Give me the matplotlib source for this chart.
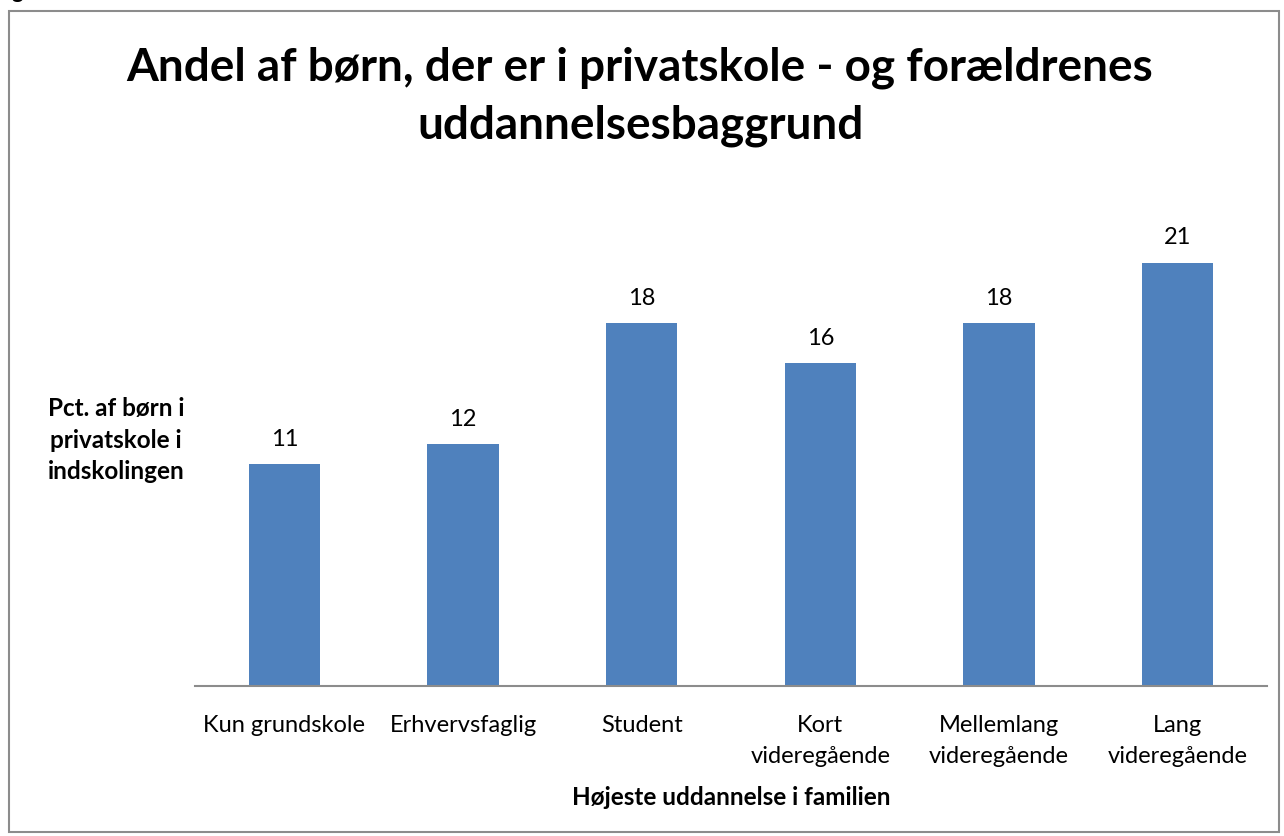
import matplotlib.pyplot as plt
from matplotlib.patches import Rectangle

plt.rcParams['font.family'] = ['Lato', 'DejaVu Sans']

categories = ["Kun grundskole", "Erhvervsfaglig", "Student", "Kort\nvideregående",
              "Mellemlang\nvideregående", "Lang\nvideregående"]
values = [11, 12, 18, 16, 18, 21]
title = "Andel af børn, der er i privatskole - og forældrenes\nuddannelsesbaggrund"
ylabel = "Pct. af børn i\nprivatskole i\nindskolingen"
xlabel = "Højeste uddannelse i familien"

fig = plt.figure(figsize=(12.84, 8.37), dpi=100)
W, H = 1284, 837

# outer frame like the spreadsheet chart area
fig.patches.append(Rectangle((9 / W, 4 / H), 1270 / W, 821 / H, transform=fig.transFigure,
                             fill=False, edgecolor='#8c8c8c', linewidth=1.5))
fig.text(12 / W, 1 - 2 / H, "g", fontsize=16, fontweight='bold', va='bottom', ha='left')

ax = fig.add_axes([195 / W, (H - 687) / H, 1072 / W, (687 - 183) / H])
x = range(len(categories))
ax.bar(x, values, width=0.4, color='#4F81BD')
for xi, v in zip(x, values):
    ax.annotate(str(v), (xi, v), xytext=(0, 11), textcoords='offset points',
                ha='center', va='bottom', fontsize=17)

ax.set_xlim(-0.5, len(categories) - 0.5)
ax.set_ylim(0, 25)
ax.set_yticks([])
ax.set_xticks(list(x))
ax.set_xticklabels(categories, fontsize=17, linespacing=1.6)
ax.tick_params(axis='x', length=0, pad=20)
for s in ['top', 'right', 'left']:
    ax.spines[s].set_visible(False)
ax.spines['bottom'].set_color('#8c8c8c')
ax.spines['bottom'].set_linewidth(1.5)

fig.text(731 / W, 1 - 798 / H, xlabel, ha='center', va='center', fontsize=17.5, fontweight='bold')
fig.text(116 / W, 1 - 440 / H, ylabel, ha='center', va='center', fontsize=17.5,
         fontweight='bold', linespacing=1.45)
fig.text(640 / W, 1 - 97 / H, title, ha='center', va='center', fontsize=33,
         fontweight='bold', linespacing=1.45)

plt.savefig("out.png", dpi=100)
